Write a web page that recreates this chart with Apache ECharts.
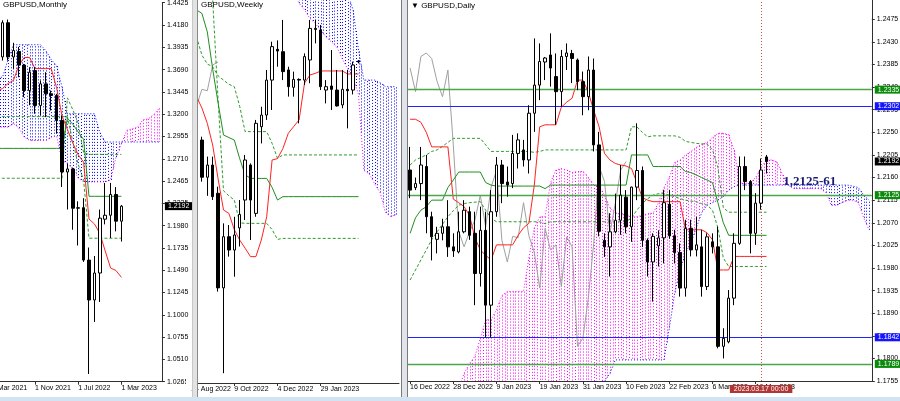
<!DOCTYPE html>
<html><head><meta charset="utf-8">
<style>html,body{margin:0;padding:0;background:#fff}#c{width:900px;height:401px}</style>
<script src="https://cdn.jsdelivr.net/npm/echarts@6/dist/echarts.min.js"></script>
</head><body><div id="c"></div>
<script>
const FONT = "'Liberation Sans Narrow','Liberation Sans',Arial,sans-serif";
const titles = ['GBPUSD,Monthly', 'GBPUSD,Weekly', '\u25BC GBPUSD,Daily'];

// ---------------- MONTHLY ----------------
const mCats = ['1 Mar 2021','1 Apr 2021','1 May 2021','1 Jun 2021','1 Jul 2021','1 Aug 2021','1 Sep 2021','1 Oct 2021','1 Nov 2021','1 Dec 2021','1 Jan 2022','1 Feb 2022','1 Mar 2022','1 Apr 2022','1 May 2022','1 Jun 2022','1 Jul 2022','1 Aug 2022','1 Sep 2022','1 Oct 2022','1 Nov 2022','1 Dec 2022','1 Jan 2023','1 Feb 2023','1 Mar 2023','1 Apr 2023','1 May 2023','1 Jun 2023','1 Jul 2023','1 Aug 2023','1 Sep 2023','1 Oct 2023'];
const mOpen  = [1.3790,1.3785,1.3830,1.4205,1.3830,1.3890,1.3740,1.3461,1.3680,1.3297,1.3534,1.3425,1.3407,1.3133,1.2567,1.2600,1.2169,1.2175,1.1600,1.1162,1.1458,1.2049,1.2092,1.2320,1.2027];
const mHigh  = [1.4017,1.3920,1.4232,1.4240,1.3985,1.3940,1.3753,1.3717,1.3717,1.3571,1.3662,1.3461,1.3425,1.3188,1.2658,1.2615,1.2245,1.2279,1.1738,1.1645,1.2154,1.2446,1.2447,1.2401,1.2204];
const mLow   = [1.3670,1.3670,1.3790,1.3790,1.3700,1.3607,1.3388,1.3300,1.3206,1.3188,1.3169,1.3242,1.2987,1.2403,1.2155,1.1933,1.1760,1.1580,1.0350,1.0921,1.1140,1.1992,1.1841,1.1915,1.1803];
const mClose = [1.3785,1.3830,1.4205,1.3830,1.3900,1.3740,1.3461,1.3662,1.3297,1.3534,1.3425,1.3407,1.3133,1.2567,1.2600,1.2169,1.2175,1.1600,1.1162,1.1458,1.2060,1.2092,1.2320,1.2027,1.2192];
const mTenkan = [1.3440,1.3460,1.3483,1.3538,1.3571,1.3735,1.3823,1.3823,1.3702,1.3702,1.3702,1.3702,1.3492,1.3184,1.3034,1.2884,1.2755,1.2675,1.2050,1.1997,1.1894,1.1700,1.1513,1.1485,1.1410];
const mKijun  = [1.2826,1.2826,1.2826,1.2826,1.2826,1.2826,1.2826,1.2826,1.2826,1.2826,1.2826,1.2826,1.2826,1.2826,1.3155,1.3092,1.3005,1.2925,1.2300,1.2300,1.2300,1.2300,1.2300,1.2300,1.2300];
const mDash1  = [1.2498,1.2498,1.2498,1.2498,1.2498,1.2498,1.2498,1.2498,1.2498,1.2498,1.2498,1.2498,1.2498,1.2498,1.3380,1.3250,1.3100,1.2780,1.2760,1.2760,1.2760,1.2760,1.2760,1.2760,1.2760];
const mDash2  = [1.3175,1.3175,1.3175,1.3175,1.3175,1.3175,1.3175,1.3175,1.3175,1.3175,1.3175,1.3175,1.3175,1.3175,1.3175,1.2900,1.2650,1.2476,1.1840,1.1840,1.1840,1.1840,1.1840,1.1840,1.1840];
const mSpanA  = [1.3060,1.3060,1.3060,1.3060,1.3100,1.3050,1.2950,1.2914,1.2914,1.2914,1.2914,1.2950,1.2960,1.2695,1.2658,1.2600,1.2500,1.2458,1.2458,1.2458,1.2458,1.2458,1.2480,1.2731,1.2877,1.3023,1.3040,1.3060,1.3140,1.3150,1.3200,1.3265];
const mSpanB  = [1.3607,1.3607,1.3607,1.3800,1.3964,1.3964,1.3964,1.3964,1.3964,1.3964,1.3900,1.3800,1.3735,1.3500,1.3206,1.3206,1.3206,1.3206,1.3206,1.3206,1.3000,1.2896,1.2896,1.2896,1.2896,1.2896,1.2896,1.2896,1.2896,1.2896,1.2896,1.2896];
const mYLabels = ['1.0265','1.0510','1.0755','1.1000','1.1245','1.1490','1.1735','1.1980','1.2225','1.2465','1.2710','1.2955','1.3200','1.3445','1.3690','1.3935','1.4180','1.4425'];

// ---------------- WEEKLY ----------------
const wCats = ['14 Aug 2022','21 Aug 2022','28 Aug 2022','4 Sep 2022','11 Sep 2022','18 Sep 2022','25 Sep 2022','2 Oct 2022','9 Oct 2022','16 Oct 2022','23 Oct 2022','30 Oct 2022','6 Nov 2022','13 Nov 2022','20 Nov 2022','27 Nov 2022','4 Dec 2022','11 Dec 2022','18 Dec 2022','25 Dec 2022','1 Jan 2023','8 Jan 2023','15 Jan 2023','22 Jan 2023','29 Jan 2023','5 Feb 2023','12 Feb 2023','19 Feb 2023','26 Feb 2023','5 Mar 2023','12 Mar 2023','19 Mar 2023','26 Mar 2023','2 Apr 2023','9 Apr 2023','16 Apr 2023','23 Apr 2023','30 Apr 2023','7 May 2023'];
const wOpen  = [null,1.1830,1.1730,1.1510,1.1582,1.1415,1.0855,1.1158,1.1079,1.1210,1.1375,1.1582,1.1296,1.1809,1.1878,1.2085,1.2267,1.2253,1.2145,1.2042,1.2089,1.2085,1.2204,1.2391,1.2381,1.2026,1.2050,1.2026,1.1938,1.2030,1.2026,1.2198];
const wHigh  = [null,1.1900,1.1750,1.1632,1.1632,1.1454,1.1237,1.1227,1.1276,1.1375,1.1642,1.1592,1.1849,1.1927,1.2145,1.2312,1.2320,1.2441,1.2164,1.2135,1.2095,1.2243,1.2441,1.2441,1.2411,1.2085,1.2263,1.2145,1.2145,1.2145,1.2194,1.2203];
const wLow   = [null,1.1650,1.1484,1.1400,1.1375,1.0833,1.0350,1.1040,1.0921,1.1100,1.1257,1.1138,1.1276,1.1710,1.1849,1.1908,1.2164,1.2085,1.1987,1.1987,1.1829,1.2056,1.2066,1.2302,1.2026,1.1947,1.1908,1.1928,1.1918,1.1799,1.2000,1.2184];
const wClose = [null,1.1730,1.1510,1.1582,1.1395,1.0855,1.1158,1.1079,1.1168,1.1290,1.1612,1.1375,1.1829,1.1878,1.2085,1.2283,1.2257,1.2135,1.2046,1.2089,1.2085,1.2224,1.2391,1.2385,1.2046,1.2046,1.2030,1.1932,1.2030,1.2022,1.2174,1.2192];
const wTenkan = [null,1.1987,1.1920,1.1829,1.1700,1.1500,1.1316,1.1296,1.1200,1.1138,1.1090,1.1040,1.1040,1.1138,1.1276,1.1612,1.1620,1.1680,1.1770,1.1810,1.1849,1.2066,1.2115,1.2125,1.2139,1.2139,1.2139,1.2139,1.2139,1.2121,1.2121,1.2121];
const wKijun  = [null,1.2500,1.2480,1.2370,1.2150,1.1950,1.1760,1.1745,1.1730,1.1620,1.1525,1.1503,1.1503,1.1503,1.1503,1.1450,1.1375,1.1395,1.1395,1.1395,1.1395,1.1395,1.1395,1.1395,1.1395,1.1395,1.1395,1.1395,1.1395,1.1395,1.1395,1.1395];
const wDash1  = [null,1.2342,1.2233,1.2180,1.2164,1.2110,1.2085,1.2060,1.2046,1.1930,1.1780,1.1780,1.1780,1.1780,1.1780,1.1710,1.1622,1.1642,1.1642,1.1642,1.1642,1.1642,1.1642,1.1642,1.1642,1.1642,1.1642,1.1642,1.1642,1.1642,1.1642,1.1642];
const wDash2  = [null,1.2800,1.2750,1.2700,1.2559,1.1967,1.1430,1.1400,1.1375,1.1240,1.1237,1.1237,1.1237,1.1237,1.1237,1.1200,1.1142,1.1148,1.1148,1.1148,1.1148,1.1148,1.1148,1.1148,1.1148,1.1148,1.1148,1.1148,1.1148,1.1148,1.1148,1.1148];
const wSpanA  = [1.2800,1.2800,1.2800,1.2800,1.2800,1.2800,1.2800,1.2800,1.2800,1.2800,1.2800,1.2800,1.2800,1.2800,1.2800,1.2800,1.2800,1.2800,1.2800,1.2600,1.2540,1.2500,1.2450,1.2420,1.2380,1.2340,1.2310,1.2280,1.2210,1.2150,1.2100,1.2000,1.1550,1.1530,1.1470,1.1420,1.1300,1.1277,1.1290];
const wSpanB  = [1.3000,1.3000,1.3000,1.3000,1.3000,1.3000,1.3000,1.3000,1.3000,1.3000,1.3000,1.3000,1.3000,1.3000,1.3000,1.3000,1.3000,1.3000,1.3000,1.3000,1.3000,1.3000,1.3000,1.3000,1.3000,1.3000,1.3000,1.3000,1.3000,1.2600,1.2500,1.2263,1.2085,1.2085,1.2085,1.2070,1.2046,1.2046,1.2046];

// ---------------- DAILY ----------------
const dCats = ['16 Dec 2022','19 Dec 2022','20 Dec 2022','21 Dec 2022','22 Dec 2022','23 Dec 2022','26 Dec 2022','27 Dec 2022','28 Dec 2022','29 Dec 2022','30 Dec 2022','2 Jan 2023','3 Jan 2023','4 Jan 2023','5 Jan 2023','6 Jan 2023','9 Jan 2023','10 Jan 2023','11 Jan 2023','12 Jan 2023','13 Jan 2023','16 Jan 2023','17 Jan 2023','18 Jan 2023','19 Jan 2023','20 Jan 2023','23 Jan 2023','24 Jan 2023','25 Jan 2023','26 Jan 2023','27 Jan 2023','30 Jan 2023','31 Jan 2023','1 Feb 2023','2 Feb 2023','3 Feb 2023','6 Feb 2023','7 Feb 2023','8 Feb 2023','9 Feb 2023','10 Feb 2023','13 Feb 2023','14 Feb 2023','15 Feb 2023','16 Feb 2023','17 Feb 2023','20 Feb 2023','21 Feb 2023','22 Feb 2023','23 Feb 2023','24 Feb 2023','27 Feb 2023','28 Feb 2023','1 Mar 2023','2 Mar 2023','3 Mar 2023','6 Mar 2023','7 Mar 2023','8 Mar 2023','9 Mar 2023','10 Mar 2023','13 Mar 2023','14 Mar 2023','15 Mar 2023','16 Mar 2023','17 Mar 2023','20 Mar 2023','21 Mar 2023','22 Mar 2023','23 Mar 2023','24 Mar 2023','27 Mar 2023','28 Mar 2023','29 Mar 2023','30 Mar 2023','31 Mar 2023','3 Apr 2023','4 Apr 2023','5 Apr 2023','6 Apr 2023','7 Apr 2023','10 Apr 2023','11 Apr 2023','12 Apr 2023','13 Apr 2023','14 Apr 2023'];
const dOpen = [1.2175,1.2140,1.2148,1.2182,1.2082,1.2037,1.2049,1.2062,1.2022,1.2012,
1.2052,1.2092,1.2049,1.1969,1.2055,1.1906,1.2092,1.2185,1.2151,1.2148,
1.2208,1.2215,1.2195,1.2288,1.2344,1.2390,1.2404,1.2361,1.2331,1.2401,
1.2407,1.2394,1.2351,1.2321,1.2374,1.2225,1.2035,1.2022,1.2052,1.2075,
1.2121,1.2062,1.2141,1.2174,1.2035,1.1992,1.2024,1.2040,1.2107,1.2044,
1.2011,1.1940,1.2059,1.2016,1.2022,1.1943,1.2032,1.2022,1.1824,1.1833,
1.1920,1.2029,1.2182,1.2152,1.2049,1.2109,1.2201];
const dHigh = [1.2221,1.2160,1.2221,1.2205,1.2092,1.2062,1.2078,1.2115,1.2049,1.2092,
1.2115,1.2102,1.2092,1.2102,1.2092,1.2135,1.2201,1.2195,1.2182,1.2245,
1.2248,1.2235,1.2304,1.2437,1.2427,1.2400,1.2447,1.2407,1.2414,1.2427,
1.2414,1.2397,1.2371,1.2401,1.2397,1.2251,1.2049,1.2089,1.2128,1.2185,
1.2135,1.2142,1.2268,1.2182,1.2039,1.2049,1.2055,1.2135,1.2135,1.2056,
1.2029,1.2076,1.2076,1.2082,1.2056,1.2049,1.2049,1.2062,1.1860,1.1936,
1.2049,1.2202,1.2202,1.2155,1.2129,1.2198,1.2205];
const dLow = [1.2119,1.2135,1.2115,1.2049,1.1995,1.2009,1.2035,1.2002,1.2002,1.2009,
1.2049,1.2036,1.1906,1.1943,1.1842,1.1842,1.2082,1.2109,1.2122,1.2139,
1.2178,1.2182,1.2168,1.2251,1.2314,1.2354,1.2341,1.2265,1.2301,1.2374,
1.2348,1.2334,1.2284,1.2294,1.2212,1.2043,1.2002,1.1963,1.2049,1.2046,
1.2049,1.2032,1.2115,1.2022,1.1963,1.1913,1.1983,1.1989,1.2038,1.1989,
1.1923,1.1923,1.2003,1.2003,1.1923,1.1936,1.2009,1.1820,1.1800,1.1830,
1.1906,1.2026,1.2135,1.2009,1.2026,1.2096,1.2168];
const dClose = [1.2135,1.2148,1.2185,1.2082,1.2042,1.2049,1.2062,1.2022,1.2014,1.2052,
1.2095,1.2045,1.1969,1.2055,1.1906,1.2092,1.2185,1.2148,1.2145,1.2208,
1.2235,1.2195,1.2288,1.2344,1.2391,1.2398,1.2378,1.2331,1.2401,1.2408,
1.2397,1.2351,1.2321,1.2374,1.2225,1.2053,1.2022,1.2052,1.2075,1.2125,
1.2062,1.2141,1.2174,1.2035,1.1992,1.2043,1.2040,1.2110,1.2044,1.2011,
1.1940,1.2059,1.2016,1.2026,1.1943,1.2042,1.2022,1.1824,1.1840,1.1920,
1.2029,1.2182,1.2152,1.2049,1.2109,1.2175,1.2192];
const dTenkan = [1.2276,1.2276,1.2270,1.2250,1.2221,1.2221,1.2221,1.2221,1.2117,1.2110,
1.2102,1.2085,1.2040,1.2016,1.2005,1.1996,1.2026,1.2026,1.2026,1.2026,
1.2045,1.2060,1.2069,1.2145,1.2261,1.2265,1.2265,1.2265,1.2300,1.2310,
1.2318,1.2354,1.2354,1.2330,1.2294,1.2261,1.2208,1.2195,1.2188,1.2185,
1.2183,1.2178,1.2150,1.2120,1.2115,1.2112,1.2112,1.2112,1.2112,1.2112,
1.2112,1.2056,1.2056,1.2056,1.2056,1.2050,1.2036,1.1976,1.1976,1.1976,
1.2003,1.2003,1.2003,1.2003,1.2003,1.2003,1.2003];
const dKijun = [1.2049,1.2080,1.2095,1.2102,1.2115,1.2115,1.2115,1.2140,1.2155,1.2171,
1.2171,1.2171,1.2171,1.2171,1.2150,1.2145,1.2143,1.2143,1.2143,1.2143,
1.2143,1.2143,1.2143,1.2143,1.2143,1.2138,1.2145,1.2145,1.2145,1.2145,
1.2145,1.2145,1.2145,1.2145,1.2145,1.2145,1.2145,1.2145,1.2145,1.2145,
1.2145,1.2205,1.2205,1.2205,1.2205,1.2182,1.2182,1.2182,1.2182,1.2182,
1.2182,1.2172,1.2170,1.2165,1.2160,1.2155,1.2150,1.2110,1.2070,1.2045,
1.2045,1.2045,1.2045,1.2045,1.2045,1.2045,1.2045];
const dDash1 = [1.2185,1.2195,1.2200,1.2205,1.2212,1.2215,1.2222,1.2230,1.2238,1.2238,
1.2238,1.2238,1.2238,1.2238,1.2225,1.2212,1.2212,1.2212,1.2212,1.2212,
1.2212,1.2212,1.2212,1.2210,1.2212,1.2215,1.2215,1.2215,1.2215,1.2215,
1.2215,1.2215,1.2215,1.2215,1.2215,1.2215,1.2215,1.2215,1.2215,1.2215,
1.2215,1.2261,1.2261,1.2250,1.2241,1.2243,1.2243,1.2243,1.2243,1.2243,
1.2240,1.2232,1.2230,1.2228,1.2227,1.2227,1.2215,1.2180,1.2100,1.2091,
1.2091,1.2091,1.2091,1.2091,1.2091,1.2091,1.2091];
const dDash2 = [1.1956,1.1976,1.1996,1.2016,1.2036,1.2052,1.2067,1.2082,1.2094,1.2105,
1.2108,1.2110,1.2111,1.2112,1.2095,1.2079,1.2072,1.2072,1.2072,1.2072,
1.2072,1.2072,1.2072,1.2072,1.2072,1.2068,1.2072,1.2072,1.2072,1.2072,
1.2072,1.2072,1.2072,1.2072,1.2072,1.2072,1.2072,1.2072,1.2072,1.2072,
1.2072,1.2080,1.2095,1.2108,1.2118,1.2125,1.2128,1.2128,1.2125,1.2122,
1.2118,1.2115,1.2113,1.2112,1.2108,1.2105,1.2095,1.2060,1.2000,1.1983,
1.1983,1.1983,1.1983,1.1983,1.1983,1.1983,1.1983];
const dSpanA = [1.1650,1.1650,1.1650,1.1650,1.1650,1.1650,1.1650,1.1650,1.1650,1.1740,
1.1770,1.1790,1.1804,1.1840,1.1877,1.1877,1.1897,1.1925,1.1933,1.1933,
1.1933,1.1933,1.2000,1.2060,1.2082,1.2082,1.2150,1.2175,1.2178,1.2175,
1.2170,1.2172,1.2172,1.2160,1.2145,1.2142,1.2125,1.2100,1.2089,1.2089,
1.2085,1.2082,1.2082,1.2085,1.2088,1.2089,1.2110,1.2140,1.2160,1.2190,
1.2195,1.2205,1.2212,1.2220,1.2226,1.2230,1.2240,1.2248,1.2248,1.2245,
1.2215,1.2150,1.2148,1.2150,1.2160,1.2180,1.2195,1.2195,1.2190,1.2165,
1.2145,1.2138,1.2138,1.2138,1.2138,1.2138,1.2138,1.2130,1.2105,1.2105,
1.2110,1.2115,1.2115,1.2110,1.2080,1.2056];
const dSpanB = [1.1650,1.1650,1.1650,1.1650,1.1650,1.1650,1.1650,1.1650,1.1650,1.1650,
1.1650,1.1650,1.1650,1.1650,1.1650,1.1650,1.1650,1.1650,1.1650,1.1650,
1.1650,1.1650,1.1650,1.1650,1.1650,1.1650,1.1650,1.1650,1.1650,1.1650,
1.1700,1.1752,1.1754,1.1754,1.1754,1.1754,1.1754,1.1770,1.1797,1.1797,
1.1797,1.1797,1.1797,1.1797,1.1797,1.1797,1.1797,1.1797,1.1860,1.1930,
1.1975,1.2010,1.2030,1.2060,1.2090,1.2105,1.2110,1.2115,1.2122,1.2135,
1.2142,1.2145,1.2145,1.2145,1.2145,1.2145,1.2145,1.2145,1.2145,1.2145,
1.2145,1.2145,1.2145,1.2145,1.2145,1.2145,1.2145,1.2145,1.2145,1.2145,
1.2145,1.2145,1.2143,1.2140,1.2125,1.2115];
const dLevels = [1.2335, 1.2302, 1.2125, 1.1842, 1.1789];
const dLevelText = ['1.2335', '1.2302', '1.2125', '1.1842', '1.1789'];
const dLevelKind = ['green', 'blue', 'green', 'blue', 'green'];
const lastPrice = 1.2192;
const lastPriceText = '1.2192';
const zoneText = '1,2125-61';
const zoneAnchor = ['30 Mar 2023', 1.2151];
const markerCat = '17 Mar 2023';
const markerText = '2023.03.17 00:00';
const CHIKOU_SHIFT = 26;

// ---------------- helpers ----------------
function ohlc(o, h, l, c) {
  return o.map((v, i) => v == null ? ['-', '-', '-', '-'] : [v, c[i], l[i], h[i]]);
}
function chikou(close) {
  return close.slice(CHIKOU_SHIFT);
}
function hatchData(A, B) {
  return A.map((a, i) => [i, a, B[i], i + 1 < A.length ? A[i + 1] : -1, i + 1 < B.length ? B[i + 1] : -1]);
}
function hatchRender(params, api) {
  const i = api.value(0), a = api.value(1), b = api.value(2), an = api.value(3), bn = api.value(4);
  const p1 = api.coord([i, a]), p2 = api.coord([i, b]);
  const bw = api.size([1, 0])[0];
  const kids = [];
  const x0 = Math.round(p1[0]) + 0.5;
  kids.push({ type: 'line', shape: { x1: x0, y1: p1[1], x2: x0, y2: p2[1] },
    style: { stroke: a >= b ? '#ff00ff' : '#0000ff', lineWidth: 1, lineDash: [1, 2] } });
  if (an > 0) {
    const am = (a + an) / 2, bm = (b + bn) / 2;
    const q1 = api.coord([i, am]), q2 = api.coord([i, bm]);
    const xm = Math.round(p1[0] + bw / 2) + 0.5;
    kids.push({ type: 'line', shape: { x1: xm, y1: q1[1], x2: xm, y2: q2[1] },
      style: { stroke: am >= bm ? '#ff00ff' : '#0000ff', lineWidth: 1, lineDash: [1, 2] } });
  }
  return { type: 'group', children: kids };
}
function lineS(gi, data, color, type, width, z) {
  return { type: 'line', xAxisIndex: gi, yAxisIndex: gi, data: data, symbol: 'none', showSymbol: false,
    lineStyle: { color: color, width: width || 1, type: type || 'solid' }, z: z || 3,
    silent: true, animation: false, connectNulls: false, emphasis: { disabled: true } };
}
function cloud(gi, A, B) {
  return [
    { type: 'custom', xAxisIndex: gi, yAxisIndex: gi, data: hatchData(A, B), renderItem: hatchRender,
      encode: { x: 0, y: [1, 2] }, clip: true, z: 1, silent: true, animation: false },
    lineS(gi, A, '#ff00ff', [1, 2], 1, 2),
    lineS(gi, B, '#0000ff', [1, 2], 1, 2)
  ];
}
function candles(gi, data, extra) {
  return Object.assign({ type: 'candlestick', xAxisIndex: gi, yAxisIndex: gi, data: data, barWidth: 3,
    itemStyle: { color: '#ffffff', color0: '#000000', borderColor: '#000000', borderColor0: '#000000', borderWidth: 1 },
    z: 5, silent: true, animation: false, clip: true }, extra || {});
}
function xAx(gi, cats, lastIdx) {
  const show = (idx) => idx % 8 === 0 && idx <= lastIdx;
  return { type: 'category', gridIndex: gi, data: cats, boundaryGap: true,
    axisLine: { show: true, lineStyle: { color: '#303030', width: 1 } },
    axisTick: { show: true, interval: show, alignWithLabel: true, length: 3, lineStyle: { color: '#303030' } },
    axisLabel: { interval: show, align: 'left', margin: 3, fontSize: 7, fontFamily: FONT, color: '#000' },
    splitLine: { show: false } };
}
const tagLabel = (bg, text) => ({ show: true, position: 'end', distance: 3, formatter: text,
  backgroundColor: bg, color: '#fff', padding: [1, 3, 0, 3], fontSize: 7, fontFamily: FONT });

// ---------------- build ----------------
const mInterval = (1.4425 - 1.0265) / (mYLabels.length - 1);
const option = {
  animation: false,
  backgroundColor: '#ffffff',
  title: [
    { text: titles[0], left: 3, top: 1, padding: 0, textStyle: { fontSize: 8, fontWeight: 'normal', fontFamily: FONT, color: '#000' } },
    { text: titles[1], left: 201, top: 1, padding: 0, textStyle: { fontSize: 8, fontWeight: 'normal', fontFamily: FONT, color: '#000' } },
    { text: titles[2], left: 411, top: 2, padding: 0, textStyle: { fontSize: 8, fontWeight: 'normal', fontFamily: FONT, color: '#000' } }
  ],
  grid: [
    { left: -10.9, top: 2.7, width: 172.8, height: 379, outerBoundsMode: 'none', containLabel: false },
    { left: 188.4, top: 0, width: 210.6, height: 383, outerBoundsMode: 'none', containLabel: false },
    { left: 407.4, top: -3.3, width: 464.4, height: 384.3, outerBoundsMode: 'none', containLabel: false }
  ],
  xAxis: [xAx(0, mCats, 24), xAx(1, wCats, 31), xAx(2, dCats, 66)],
  yAxis: [
    { type: 'value', gridIndex: 0, position: 'right', min: 1.0265, max: 1.4425, interval: mInterval,
      axisLine: { show: true, lineStyle: { color: '#303030' } }, axisTick: { show: true, length: 3, lineStyle: { color: '#303030' } },
      splitLine: { show: false },
      axisLabel: { margin: 5, fontSize: 7, fontFamily: FONT, color: '#000',
        formatter: (v) => mYLabels[Math.round((v - 1.0265) / mInterval)] || '' } },
    { type: 'value', gridIndex: 1, min: 1.0292, max: 1.2559, show: false, splitLine: { show: false } },
    { type: 'value', gridIndex: 2, position: 'right', min: 1.1755, max: 1.2520, interval: 0.0045,
      axisLine: { show: true, lineStyle: { color: '#303030' } }, axisTick: { show: true, length: 3, lineStyle: { color: '#303030' } },
      splitLine: { show: false },
      axisLabel: { margin: 5, fontSize: 7, fontFamily: FONT, color: '#000', showMaxLabel: false,
        formatter: (v) => v.toFixed(4) } }
  ],
  series: [].concat(
    // monthly
    cloud(0, mSpanA, mSpanB),
    [lineS(0, mDash1, '#2e9a2e', [3, 2]), lineS(0, mDash2, '#2e9a2e', [3, 2]),
     lineS(0, mKijun, '#1f8f1f'), lineS(0, mTenkan, '#ff2222'),
     candles(0, ohlc(mOpen, mHigh, mLow, mClose), {
       markLine: { silent: true, symbol: 'none', animation: false, precision: 4,
         data: [{ yAxis: lastPrice, lineStyle: { color: 'rgba(0,0,0,0)' }, label: tagLabel('#000000', lastPriceText) }] } })],
    // weekly
    cloud(1, wSpanA, wSpanB),
    [lineS(1, [null].concat(chikou(wClose).slice(1)), '#a0a0a0'),
     lineS(1, wDash1, '#2e9a2e', [3, 2]), lineS(1, wDash2, '#2e9a2e', [3, 2]),
     lineS(1, wKijun, '#1f8f1f'), lineS(1, wTenkan, '#ff2222'),
     candles(1, ohlc(wOpen, wHigh, wLow, wClose))],
    // daily
    cloud(2, dSpanA, dSpanB),
    [lineS(2, chikou(dClose), '#a0a0a0'),
     lineS(2, dDash1, '#2e9a2e', [3, 2]), lineS(2, dDash2, '#2e9a2e', [3, 2]),
     lineS(2, dKijun, '#1f8f1f'), lineS(2, dTenkan, '#ff2222'),
     candles(2, ohlc(dOpen, dHigh, dLow, dClose), {
       markLine: { silent: true, symbol: 'none', animation: false, precision: 4,
         data: dLevels.map((v, i) => ({ yAxis: v,
             lineStyle: { color: dLevelKind[i] === 'green' ? '#4aa84a' : '#2222ff', width: dLevelKind[i] === 'green' ? 1.3 : 1, type: 'solid' },
             label: tagLabel(dLevelKind[i] === 'green' ? '#0b8a0b' : '#1414ff', dLevelText[i]) }))
           .concat([{ yAxis: lastPrice, lineStyle: { color: 'rgba(0,0,0,0)' }, label: tagLabel('#000000', lastPriceText) },
             { xAxis: markerCat, lineStyle: { color: '#d05050', width: 1, type: [1, 2] },
               label: { show: true, position: 'start', distance: 4, formatter: markerText, backgroundColor: '#b23535',
                 color: '#fff', padding: [1, 4, 0, 4], fontSize: 7, fontFamily: FONT } }]) },
       markPoint: { silent: true, symbol: 'circle', symbolSize: 0, animation: false,
         data: [{ coord: zoneAnchor, value: zoneText }],
         label: { show: true, position: 'inside', formatter: zoneText, color: '#1b1b70',
           fontFamily: "'Liberation Serif','Times New Roman',serif", fontWeight: 'bold', fontSize: 13 } } })]
  ),
  graphic: [
    { type: 'rect', z: 100, shape: { x: 186, y: 379, width: 8, height: 9 }, style: { fill: '#ffffff' } },
    { type: 'rect', z: 101, shape: { x: 192, y: 0, width: 5.5, height: 397 }, style: { fill: '#e2e2e2' } },
    { type: 'line', z: 102, shape: { x1: 192.5, y1: 0, x2: 192.5, y2: 397 }, style: { stroke: '#c8c8c8', lineWidth: 1 } },
    { type: 'line', z: 102, shape: { x1: 197.5, y1: 0, x2: 197.5, y2: 397 }, style: { stroke: '#8a8a8a', lineWidth: 1 } },
    { type: 'rect', z: 101, shape: { x: 401, y: 0, width: 7, height: 397 }, style: { fill: '#dfe4ea' } },
    { type: 'line', z: 102, shape: { x1: 401.5, y1: 0, x2: 401.5, y2: 397 }, style: { stroke: '#7a7a7a', lineWidth: 1 } },
    { type: 'line', z: 102, shape: { x1: 407.5, y1: 0, x2: 407.5, y2: 397 }, style: { stroke: '#7a7a7a', lineWidth: 1 } },
    { type: 'rect', z: 101, shape: { x: 0, y: 397, width: 900, height: 4 }, style: { fill: '#d3e3f4' } }
  ]
};
const chart = echarts.init(document.getElementById('c'), null, { renderer: 'canvas' });
chart.setOption(option);
</script></body></html>
